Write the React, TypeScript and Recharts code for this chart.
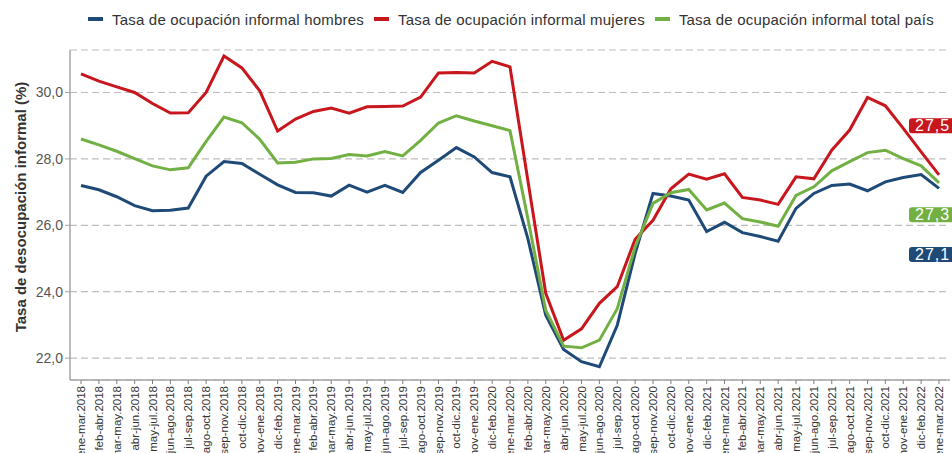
import { LineChart, Line, XAxis, YAxis, CartesianGrid, Legend, LabelList, Label } from 'recharts';

const periodos = [
  'ene-mar.2018', 'feb-abr.2018', 'mar-may.2018', 'abr-jun.2018', 'may-jul.2018', 'jun-ago.2018',
  'jul-sep.2018', 'ago-oct.2018', 'sep-nov.2018', 'oct-dic.2018', 'nov-ene.2018', 'dic-feb.2019',
  'ene-mar.2019', 'feb-abr.2019', 'mar-may.2019', 'abr-jun.2019', 'may-jul.2019', 'jun-ago.2019',
  'jul-sep.2019', 'ago-oct.2019', 'sep-nov.2019', 'oct-dic.2019', 'nov-ene.2019', 'dic-feb.2020',
  'ene-mar.2020', 'feb-abr.2020', 'mar-may.2020', 'abr-jun.2020', 'may-jul.2020', 'jun-ago.2020',
  'jul-sep.2020', 'ago-oct.2020', 'sep-nov.2020', 'oct-dic.2020', 'nov-ene.2020', 'dic-feb.2021',
  'ene-mar.2021', 'feb-abr.2021', 'mar-may.2021', 'abr-jun.2021', 'may-jul.2021', 'jun-ago.2021',
  'jul-sep.2021', 'ago-oct.2021', 'sep-nov.2021', 'oct-dic.2021', 'nov-ene.2021', 'dic-feb.2022',
  'ene-mar.2022',
];

const hombres = [
  27.2, 27.07, 26.86, 26.59, 26.44, 26.45, 26.52, 27.48, 27.92, 27.86, 27.54, 27.22,
  26.99, 26.98, 26.88, 27.21, 27.0, 27.2, 26.99, 27.59, 27.96, 28.34, 28.06, 27.59,
  27.46, 25.6, 23.29, 22.26, 21.89, 21.74, 22.99, 25.15, 26.96, 26.88, 26.76, 25.81,
  26.09, 25.78, 25.66, 25.52, 26.51, 26.96, 27.2, 27.24, 27.04, 27.31, 27.44, 27.53,
  27.11,
];

const mujeres = [
  30.56, 30.34, 30.17, 30.0, 29.67, 29.38, 29.39, 30.0, 31.1, 30.74, 30.05, 28.84,
  29.2, 29.43, 29.53, 29.38, 29.57, 29.58, 29.59, 29.86, 30.59, 30.6, 30.59, 30.94,
  30.77, 27.35, 23.95, 22.54, 22.88, 23.65, 24.15, 25.58, 26.15, 27.1, 27.54, 27.39,
  27.55, 26.84, 26.76, 26.63, 27.46, 27.4, 28.26, 28.87, 29.85, 29.6, 28.92, 28.21,
  27.52,
];

const totalPais = [
  28.6, 28.42, 28.23, 28.01, 27.79, 27.67, 27.73, 28.53, 29.26, 29.09, 28.59, 27.88,
  27.9, 28.0, 28.01, 28.13, 28.09, 28.22, 28.09, 28.56, 29.08, 29.3, 29.14, 29.0,
  28.85, 26.2, 23.44, 22.36, 22.31, 22.54, 23.49, 25.35, 26.66, 26.98, 27.08, 26.46,
  26.67, 26.2, 26.1, 25.97, 26.9, 27.16, 27.64, 27.92, 28.19, 28.26, 28.01, 27.79,
  27.28,
];

const yTicks = [22, 24, 26, 28, 30];

const data = periodos.map((p, i) => ({
  periodo: p,
  hombres: hombres[i],
  mujeres: mujeres[i],
  total: totalPais[i],
}));

const FONT = 'Arial, "Liberation Sans", sans-serif';
const COLORS = {
  hombres: '#1F4A78',
  mujeres: '#C8161D',
  total:   '#72B043',
};

const fmt = (v: number) => v.toFixed(1).replace('.', ',');

// end-of-line value badge, offset vertically like the original
function endBadge(color: string, dy: number) {
  return (props: any) => {
    const { x, y, index, value } = props;
    if (index !== data.length - 1) return null;
    const cy = y + dy;
    return (
      <g>
        <rect x={x - 30} y={cy - 7.5} width={50} height={15} rx={3} fill={color} />
        <text x={x - 24} y={cy + 5.5} fill="#fff" fontSize={16} fontFamily={FONT} letterSpacing={1}>
          {fmt(value)}
        </text>
      </g>
    );
  };
}

function XTick({ x, y, payload }: any) {
  return (
    <text
      x={x}
      y={y}
      transform={`rotate(-90, ${x}, ${y})`}
      textAnchor="end"
      dy="0.35em"
      fontSize={11.5}
      fontFamily={FONT}
      fill="#333"
    >
      {payload.value}
    </text>
  );
}

function LegendBox({ payload }: any) {
  return (
    <div
      style={{
        height: 42,
        width: 952,
        display: 'flex',
        flexWrap: 'nowrap',
        alignItems: 'flex-start',
        paddingLeft: 88,
        boxSizing: 'border-box',
        fontFamily: FONT,
        whiteSpace: 'nowrap',
      }}
    >
      {(payload || []).map((item: any) => (
        <div
          key={item.value}
          style={{ display: 'flex', alignItems: 'center', height: 22, marginRight: 10, flexShrink: 0 }}
        >
          <span style={{ display: 'inline-block', width: 15, height: 4, background: item.color, marginRight: 9 }} />
          <span style={{ fontSize: 15, letterSpacing: 0.2, color: '#333' }}>{item.value}</span>
        </div>
      ))}
    </div>
  );
}

export default function App() {
  return (
    <div style={{ position: 'absolute', left: 0, top: 0, width: 952, height: 453, background: '#fff' }}>
      <LineChart width={952} height={453} data={data} margin={{ top: 8, right: 2, bottom: 0, left: 0 }}>
        <CartesianGrid vertical={false} stroke="#BDBDBD" strokeDasharray="7 4" strokeWidth={1.2} />
        <XAxis
          dataKey="periodo"
          interval={0}
          height={73}
          padding={{ left: 11, right: 11 }}
          tick={<XTick />}
          tickSize={4}
          tickMargin={2}
          axisLine={{ stroke: '#A6A6A6', strokeWidth: 1.5 }}
          tickLine={{ stroke: '#7F7F7F' }}
        />
        <YAxis
          width={70}
          domain={[21.34, 31.28]}
          ticks={yTicks}
          tickFormatter={fmt}
          tickSize={5}
          tickMargin={2}
          tick={{ fontSize: 14, fill: '#555', fontFamily: FONT }}
          axisLine={{ stroke: '#A6A6A6', strokeWidth: 1.5 }}
          tickLine={{ stroke: '#A6A6A6' }}
        >
          <Label
            content={() => (
              <text
                x={26}
                y={207}
                transform="rotate(-90, 26, 207)"
                textAnchor="middle"
                fontSize={15}
                fontWeight="bold"
                fontFamily={FONT}
                fill="#333"
              >
                Tasa de desocupación informal (%)
              </text>
            )}
          />
        </YAxis>
        <Legend verticalAlign="top" content={<LegendBox />} />
        <Line
          name="Tasa de ocupación informal hombres"
          dataKey="hombres"
          stroke={COLORS.hombres}
          strokeWidth={3}
          dot={false}
          isAnimationActive={false}
        >
          <LabelList dataKey="hombres" content={endBadge(COLORS.hombres, 66)} />
        </Line>
        <Line
          name="Tasa de ocupación informal mujeres"
          dataKey="mujeres"
          stroke={COLORS.mujeres}
          strokeWidth={3}
          dot={false}
          isAnimationActive={false}
        >
          <LabelList dataKey="mujeres" content={endBadge(COLORS.mujeres, -49)} />
        </Line>
        <Line
          name="Tasa de ocupación informal total país"
          dataKey="total"
          stroke={COLORS.total}
          strokeWidth={3}
          dot={false}
          isAnimationActive={false}
        >
          <LabelList dataKey="total" content={endBadge(COLORS.total, 32)} />
        </Line>
      </LineChart>
    </div>
  );
}
